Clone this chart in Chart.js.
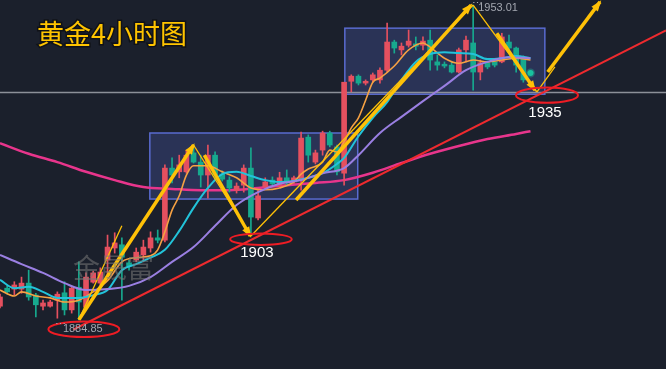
<!DOCTYPE html>
<html lang="zh">
<head>
<meta charset="UTF-8">
<title>黄金4小时图</title>
<script src="https://cdn.jsdelivr.net/npm/chart.js"></script>
<style>
  html, body { margin: 0; padding: 0; background: #1b202c; }
  #wrap { width: 666px; height: 369px; }
</style>
</head>
<body>
<div id="wrap"><canvas id="chart" width="666" height="369"></canvas></div>
<script>
// 4h gold candles (index = bar number)
const opens  = [1887.8,1891.7,1891.5,1891.5,1892.8,1890.2,1887.8,1887.8,1889.1,1890.7,
                1887.0,1891.9,1887.6,1893.0,1892.8,1897.8,1900.4,1901.1,1897.2,1897.8,
                1898.9,1900.4,1902.6,1902.1,1917.7,1916.9,1916.9,1921.0,1919.0,1916.2,
                1920.5,1916.4,1915.1,1912.9,1914.0,1917.7,1906.9,1913.6,1915.1,1914.0,
                1915.6,1914.7,1915.1,1924.4,1919.0,1921.6,1925.3,1922.3,1916.6,1936.5,
                1937.6,1936.1,1936.8,1936.8,1938.9,1945.0,1943.3,1944.3,1944.6,1944.3,
                1945.4,1940.7,1940.2,1940.0,1938.5,1943.3,1944.8,1938.5,1940.5,1940.7,
                1940.7,1945.0,1943.7,1941.5,1938.5];
const closes = [1889.8,1890.9,1892.4,1892.8,1889.8,1888.1,1888.5,1888.7,1890.4,1887.0,
                1891.7,1888.7,1894.1,1895.0,1895.2,1900.6,1901.5,1898.4,1896.5,1899.5,
                1900.6,1902.6,1902.1,1917.7,1916.2,1918.4,1920.5,1919.0,1916.2,1920.5,
                1916.2,1915.3,1913.4,1913.8,1917.7,1907.1,1911.7,1914.7,1914.3,1915.6,
                1914.5,1915.6,1924.2,1920.5,1921.0,1925.3,1922.7,1916.9,1936.3,1937.6,
                1936.1,1936.5,1937.9,1938.9,1945.0,1943.7,1944.1,1945.2,1944.1,1945.2,
                1941.1,1940.0,1939.8,1938.5,1943.3,1945.4,1938.5,1940.5,1939.6,1940.0,
                1946.1,1943.7,1940.0,1936.8,1938.3];
const highs  = [1890.4,1892.2,1893.1,1894.1,1895.6,1890.6,1889.1,1889.1,1890.9,1893.1,
                1892.0,1897.4,1895.0,1895.4,1896.1,1903.2,1903.7,1902.6,1897.8,1900.4,
                1902.1,1903.9,1904.3,1918.4,1919.9,1920.5,1921.6,1922.7,1920.5,1922.7,
                1921.2,1917.1,1915.8,1914.5,1918.4,1922.1,1913.0,1915.6,1915.8,1916.8,
                1917.3,1916.0,1925.5,1924.9,1921.6,1925.7,1925.7,1922.7,1936.3,1937.9,
                1937.9,1936.8,1938.3,1939.4,1949.1,1945.4,1944.8,1947.6,1946.1,1946.1,
                1947.6,1942.2,1940.7,1940.7,1943.7,1946.3,1953.01,1941.1,1940.9,1941.1,
                1946.9,1946.5,1943.9,1942.0,1938.7];
const lows   = [1887.4,1890.4,1890.2,1890.6,1889.1,1885.5,1887.0,1887.6,1885.2,1885.9,
                1886.3,1884.85,1887.2,1892.8,1892.4,1894.6,1899.3,1889.1,1895.6,1897.4,
                1897.4,1899.5,1901.5,1901.7,1914.5,1915.6,1916.6,1918.8,1913.6,1911.2,
                1915.6,1914.9,1912.5,1912.3,1912.5,1903.0,1906.5,1913.2,1913.8,1913.6,
                1914.0,1914.3,1912.9,1919.0,1918.6,1920.5,1922.3,1916.2,1914.0,1934.2,
                1935.7,1935.7,1936.3,1936.1,1938.5,1942.6,1942.2,1943.9,1943.3,1943.3,
                1938.9,1938.9,1939.4,1938.3,1938.3,1940.7,1934.6,1936.8,1939.2,1939.6,
                1940.5,1943.3,1938.5,1936.3,1938.1];

// moving averages, [bar, price]
const maFast = [[0,1891.3],[2,1890.0],[3,1890.9],[5,1890.0],[7,1889.6],[9,1888.7],[11,1889.1],
  [13,1890.9],[15,1893.3],[17,1897.4],[19,1898.3],[21,1898.7],[22,1900.0],[23,1903.9],[24,1908.6],
  [25,1911.7],[26,1916.2],[27,1918.2],[29,1918.2],[31,1916.9],[33,1915.6],[35,1913.4],[37,1913.0],
  [39,1913.4],[41,1914.7],[42,1916.4],[43,1917.5],[45,1919.0],[46,1921.6],[47,1921.2],[48,1923.4],
  [49,1926.4],[50,1928.6],[51,1932.4],[52,1936.3],[53,1937.2],[55,1939.8],[57,1943.3],[59,1944.8],
  [60,1943.9],[62,1941.5],[64,1940.4],[66,1941.1],[68,1940.7],[70,1941.1],[72,1941.5],[74,1941.1]];
const maMid = [[0,1893.5],[2,1891.7],[4,1892.0],[6,1890.9],[8,1889.6],[11,1889.6],[13,1890.2],
  [15,1891.3],[17,1895.6],[19,1896.9],[21,1898.3],[23,1900.0],[25,1904.1],[27,1909.1],[29,1913.4],
  [31,1916.4],[33,1916.9],[35,1916.0],[37,1915.1],[39,1914.7],[41,1914.9],[43,1915.6],[45,1916.6],
  [47,1918.6],[48,1919.9],[50,1924.6],[52,1928.6],[54,1932.0],[56,1936.8],[58,1940.7],[60,1942.4],
  [62,1942.8],[64,1942.6],[66,1942.4],[68,1941.3],[70,1941.5],[72,1942.0],[74,1941.5]];
const maSlow = [[0,1898.9],[3,1896.9],[6,1895.0],[9,1892.8],[12,1891.3],[15,1891.5],[18,1892.2],
  [21,1894.1],[24,1897.4],[27,1900.6],[30,1905.2],[33,1909.7],[36,1912.5],[39,1914.3],[42,1915.1],
  [45,1916.6],[48,1917.7],[50,1920.5],[53,1925.3],[56,1928.8],[59,1932.2],[62,1935.5],[65,1938.9],
  [68,1940.7],[71,1941.7],[74,1941.5]];
const maLong = [[0,1923.1],[4,1920.8],[8,1919.0],[12,1916.9],[16,1915.1],[20,1913.6],[24,1913.2],
  [28,1912.9],[32,1912.9],[36,1913.4],[40,1914.0],[44,1914.5],[48,1915.1],[52,1916.7],[56,1918.8],
  [60,1920.8],[64,1922.5],[68,1924.0],[72,1925.1],[74,1925.7]];

// hand-drawn analysis lines, [bar, price]
const trendLine = [[10.2,1882.7],[92.9,1947.5]];
const thinLegs = [
  [[11,1884.85],[17,1905.2]],
  [[27,1922.7],[35,1903.0]],
  [[35,1903.0],[66,1953.01]],
  [[66,1953.01],[74.9,1934.2]],
  [[74.9,1934.2],[77.4,1939.6]]
];
const thickLegs = [
  [[11,1884.85],[27,1922.7]],
  [[28.5,1920.5],[34.9,1903.0]],
  [[41.3,1910.8],[65.7,1953.0]],
  [[69.3,1946.9],[74.6,1934.6]],
  [[76.4,1938.5],[83.7,1953.7]]
];

// consolidation ranges and marked levels
const rangeBars = [[20.9,49.9],[48.1,76.0]];
const rangeTops = [1925.3,1948.0];
const rangeBottoms = [1911.0,1933.7];
const lastPrice = 1934.06;
const markBars = [11.7,36.4,76.3];
const markPrices = [1882.8,1902.3,1933.5];
const markLabels = ['1884.85','1903','1935'];
const highLabel = '1953.01';

const RED = '#e5505f', GREEN = '#17a98e', GOLD = '#ffc107';
const up = closes.map((c, i) => c >= opens[i]);
const candleColors = up.map(u => u ? RED : GREEN);
const pts = arr => arr.map(p => ({ x: p[0], y: p[1] }));

function maSet(data, color, width, order) {
  return { type: 'line', data: pts(data), borderColor: color, borderWidth: width,
    pointRadius: 0, cubicInterpolationMode: 'monotone', order: order };
}

const datasets = [
  maSet(maLong, '#e8358c', 2.5, 10),
  { type: 'bar', data: lows.map((l, i) => ({ x: i, y: [l, highs[i]] })),
    backgroundColor: candleColors, barThickness: 1, grouped: false, order: 9 },
  { type: 'bar', data: opens.map((o, i) => ({ x: i, y: [o, closes[i]] })),
    backgroundColor: candleColors, barThickness: 5, minBarLength: 1, grouped: false, order: 8 },
  maSet(maSlow, '#9a7fe2', 2, 6),
  maSet(maMid, '#22c3da', 2, 6),
  maSet(maFast, '#f6a143', 1.6, 6),
  { type: 'line', data: pts(trendLine), borderColor: '#ee2a2e', borderWidth: 2, pointRadius: 0, order: 4 }
];
thinLegs.forEach(l => datasets.push({ type: 'line', data: pts(l), borderColor: GOLD,
  borderWidth: 1.3, pointRadius: 0, order: 3 }));
thickLegs.forEach(l => datasets.push({ type: 'line', data: pts(l), borderColor: GOLD,
  borderWidth: 3.5, pointRadius: 0, order: 2, arrow: true }));
datasets.push({ type: 'line', data: [{ x: opens.length - 1, y: closes[closes.length - 1] }],
  pointRadius: 3, pointBackgroundColor: '#19c29f', pointBorderColor: 'rgba(25,194,159,0.35)',
  pointBorderWidth: 3, showLine: false, order: 1 });

const drawings = {
  id: 'drawings',
  beforeDatasetsDraw(chart) {
    const { ctx, scales: { x, y } } = chart;
    ctx.save();
    // range boxes
    rangeBars.forEach((b, i) => {
      const x0 = x.getPixelForValue(b[0]), x1 = x.getPixelForValue(b[1]);
      const y0 = y.getPixelForValue(rangeTops[i]), y1 = y.getPixelForValue(rangeBottoms[i]);
      ctx.fillStyle = 'rgba(74,92,178,0.32)';
      ctx.fillRect(x0, y0, x1 - x0, y1 - y0);
      ctx.strokeStyle = '#5a6bd0';
      ctx.lineWidth = 1.5;
      ctx.strokeRect(x0, y0, x1 - x0, y1 - y0);
    });
    // last price line
    const ly = y.getPixelForValue(lastPrice);
    ctx.strokeStyle = '#8c9099';
    ctx.lineWidth = 1.5;
    ctx.beginPath();
    ctx.moveTo(0, ly);
    ctx.lineTo(chart.width, ly);
    ctx.stroke();
    ctx.restore();
  },
  afterDatasetsDraw(chart) {
    const { ctx, scales: { x, y } } = chart;
    ctx.save();
    // arrow heads on the thick legs
    chart.data.datasets.forEach((ds, i) => {
      if (!ds.arrow) return;
      const el = chart.getDatasetMeta(i).data;
      const a = el[el.length - 2], b = el[el.length - 1];
      const ang = Math.atan2(b.y - a.y, b.x - a.x);
      const c = Math.cos(ang), s = Math.sin(ang);
      ctx.fillStyle = GOLD;
      ctx.beginPath();
      ctx.moveTo(b.x + c * 2, b.y + s * 2);
      ctx.lineTo(b.x - c * 9 + s * 4, b.y - s * 9 - c * 4);
      ctx.lineTo(b.x - c * 9 - s * 4, b.y - s * 9 + c * 4);
      ctx.closePath();
      ctx.fill();
    });
    // red circles round the key lows
    const radii = [[35.5, 7.8], [30.8, 5.8], [31, 7.7]];
    markBars.forEach((b, i) => {
      ctx.strokeStyle = '#ee1c24';
      ctx.lineWidth = 2;
      ctx.beginPath();
      ctx.ellipse(x.getPixelForValue(b), y.getPixelForValue(markPrices[i]), radii[i][0], radii[i][1], 0, 0, Math.PI * 2);
      ctx.stroke();
    });
    ctx.textBaseline = 'middle';
    // low / high price tags
    ctx.font = '11px "Liberation Sans", Arial, sans-serif';
    ctx.fillStyle = '#a3a7b0';
    ctx.textAlign = 'left';
    const lx = x.getPixelForValue(markBars[0]), lyy = y.getPixelForValue(markPrices[0]);
    ctx.fillText(markLabels[0], lx - 21, lyy);
    ctx.fillText('⋯', lx - 29, lyy - 4);
    const hx = x.getPixelForValue(66), hy = y.getPixelForValue(1953.01);
    ctx.fillText(highLabel, hx + 5, hy + 3);
    ctx.fillText('⋯', hx - 1, hy - 1);
    ctx.font = '15px "Liberation Sans", Arial, sans-serif';
    ctx.fillStyle = '#ffffff';
    ctx.textAlign = 'center';
    ctx.fillText(markLabels[1], x.getPixelForValue(markBars[1]) - 4, y.getPixelForValue(markPrices[1]) + 14);
    ctx.fillText(markLabels[2], x.getPixelForValue(markBars[2]) - 2, y.getPixelForValue(markPrices[2]) + 18);
    // watermark
    ctx.font = '27px "Noto Sans CJK SC", sans-serif';
    ctx.fillStyle = 'rgba(120,120,120,0.55)';
    ctx.textAlign = 'left';
    ctx.fillText('金晟富', 73, 268);
    // title
    ctx.font = '27px "Noto Sans CJK SC", sans-serif';
    ctx.lineWidth = 3;
    ctx.strokeStyle = 'rgba(10,10,10,0.6)';
    ctx.strokeText('黄金4小时图', 37, 34);
    ctx.fillStyle = '#ffc400';
    ctx.fillText('黄金4小时图', 37, 34);
    ctx.restore();
  }
};

new Chart(document.getElementById('chart'), {
  type: 'bar',
  data: { datasets: datasets },
  options: {
    responsive: false,
    animation: false,
    layout: { padding: 0, autoPadding: false },
    plugins: { legend: { display: false }, tooltip: { enabled: false } },
    scales: {
      x: { type: 'linear', min: 0, max: 92.9, offset: false, display: false },
      y: { min: 1874.2, max: 1954.1, display: false }
    }
  },
  plugins: [drawings]
});
</script>
</body>
</html>
